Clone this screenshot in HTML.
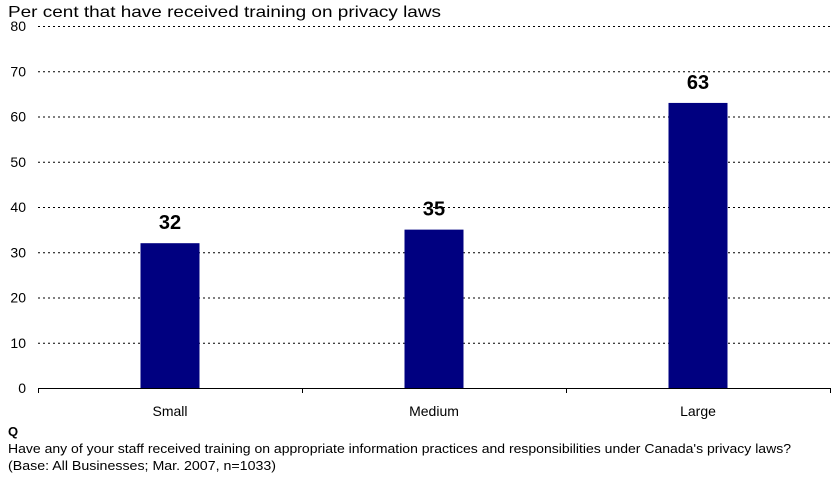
<!DOCTYPE html>
<html><head><meta charset="utf-8"><style>
body{margin:0;background:#fff;font-family:"Liberation Sans",Arial,sans-serif}
svg text{font-family:"Liberation Sans",Arial,sans-serif}
</style></head><body>
<svg id="c" width="836" height="481" xmlns="http://www.w3.org/2000/svg">
<text x="8" y="17" font-size="16" textLength="433" lengthAdjust="spacingAndGlyphs" fill="#000">Per cent that have received training on privacy laws</text>
<g id="grid"></g><g id="bars"></g><g id="axis"></g>
<text x="8" y="436" font-size="13" font-weight="bold">Q</text>
<text x="8" y="453" font-size="13" textLength="783" lengthAdjust="spacingAndGlyphs">Have any of your staff received training on appropriate information practices and responsibilities under Canada's privacy laws?</text>
<text x="8" y="470" font-size="13" textLength="268" lengthAdjust="spacingAndGlyphs">(Base: All Businesses; Mar. 2007, n=1033)</text>
</svg>
<script>
const categories=["Small","Medium","Large"];
const values=[32,35,63];
const yTicks=[0,10,20,30,40,50,60,70,80];
const NS="http://www.w3.org/2000/svg";
const x0=38,x1=830,y0=388,yTop=26,yMax=80;
const y=v=>y0-(v/yMax)*(y0-yTop);
const bw=(x1-x0)/categories.length;
const cx=i=>x0+bw*(i+0.5);
function mk(t,a,p){const e=document.createElementNS(NS,t);for(const k in a)e.setAttribute(k,a[k]);p.appendChild(e);return e;}
const g=document.getElementById('grid'),b=document.getElementById('bars'),ax=document.getElementById('axis');
yTicks.forEach(v=>{
  if(v>0){const l=mk('line',{x1:x0,x2:x1,y1:y(v)+0.5,y2:y(v)+0.5,stroke:'#000','stroke-dasharray':'2,3','stroke-width':1},g);
  
  }
  const t=mk('text',{x:26,y:y(v)+5,'font-size':14,'text-anchor':'end',fill:'#000'},ax);
  t.textContent=v;
  
  
});
const al=mk('line',{x1:x0,x2:x1,y1:y0+0.5,y2:y0+0.5,stroke:'#000'},ax);


for(let i=0;i<=categories.length;i++){
  const tk=mk('line',{x1:x0+bw*i+0.5,x2:x0+bw*i+0.5,y1:y0,y2:y0+5,stroke:'#000'},ax);
  
  
}
categories.forEach((c,i)=>{
  const r=mk('rect',{x:cx(i)-29.5,y:y(values[i]),width:59,height:y0-y(values[i]),fill:'#000080'},b);
  
  
  const vl=mk('text',{x:cx(i),y:y(values[i])-14,'font-size':20,'font-weight':'bold','text-anchor':'middle'},b);
  vl.textContent=values[i];
  
  
  const cl=mk('text',{x:cx(i),y:416,'font-size':14,'text-anchor':'middle'},ax);
  cl.textContent=c;
  
  
});
</script>
</body></html>
